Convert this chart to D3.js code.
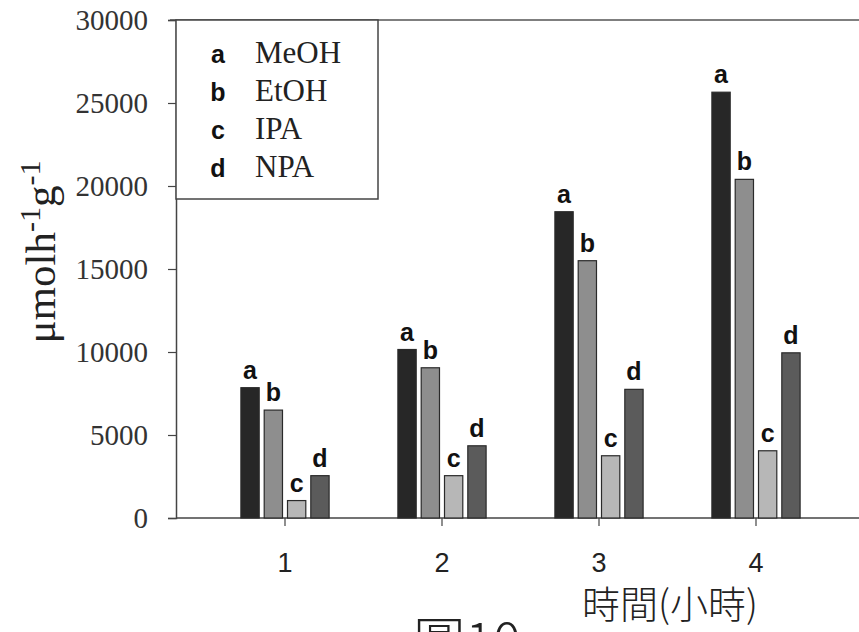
<!DOCTYPE html>
<html lang="zh-Hant">
<head>
<meta charset="UTF-8">
<title>圖10</title>
<script src="https://d3js.org/d3.v7.min.js"></script>
<style>
    body { margin: 0; background: #fff; }
    svg { display: block; }
    .ytick text { font-family: "Liberation Serif", "DejaVu Serif", serif; font-size: 29px; fill: #333; }
    .xtick text { font-family: "Liberation Sans", Arial, sans-serif; font-size: 27px; fill: #222; }
    .bar-label { font-family: "Liberation Sans", Arial, sans-serif; font-weight: bold; font-size: 25px; fill: #111; }
</style>
</head>
<body>
<svg width="859" height="632"></svg>
<script>
    // 數據
    const hours = [1, 2, 3, 4];
    const series = ["a", "b", "c", "d"];
    const seriesNames = ["MeOH", "EtOH", "IPA", "NPA"];
    const meoh = [7850, 10150, 18450, 25650];
    const etoh = [6500, 9050, 15500, 20400];
    const ipa  = [1050, 2550, 3750, 4050];
    const npa  = [2550, 4350, 7750, 9950];
    const yTicks = [0, 5000, 10000, 15000, 20000, 25000, 30000];

    const colors = ["#272727", "#8e8e8e", "#b7b7b7", "#5b5b5b"];
    const values = [meoh, etoh, ipa, npa];

    const svg = d3.select("svg");
    const mLeft = 176, mRight = 859, mTop = 20, mBottom = 518;

    const x = d3.scaleBand().domain(hours).range([206.5, 834.5]).padding(0);
    const xi = d3.scaleBand().domain(series).range([-44.1, 44.1]).paddingInner(0.215).paddingOuter(0);
    const y = d3.scaleLinear().domain([0, 30000]).range([mBottom, mTop]);

    // 頂部框線
    svg.append("line")
        .attr("x1", mLeft - 6).attr("x2", mRight)
        .attr("y1", mTop).attr("y2", mTop)
        .attr("stroke", "#555").attr("stroke-width", 1.5);

    // y 軸
    const yAxis = svg.append("g")
        .attr("class", "ytick")
        .attr("transform", `translate(${mLeft},0)`)
        .call(d3.axisLeft(y).tickValues(yTicks).tickSize(8).tickPadding(20).tickFormat(d3.format("d")));
    yAxis.select(".domain").attr("stroke", "#444").attr("stroke-width", 1.5);
    yAxis.selectAll(".tick line").attr("stroke", "#444").attr("stroke-width", 1.2);

    // x 軸
    const xAxis = svg.append("g")
        .attr("class", "xtick")
        .attr("transform", `translate(0,${mBottom})`)
        .call(d3.axisBottom(x).tickSize(8).tickSizeOuter(0));
    xAxis.select(".domain").attr("d", `M${mLeft},0H${mRight}`).attr("stroke", "#444").attr("stroke-width", 1.5);
    xAxis.selectAll(".tick line").attr("stroke", "#444").attr("stroke-width", 1.2);
    xAxis.selectAll(".tick text").attr("y", 54).attr("dy", 0);

    // 柱狀圖
    const rows = [];
    hours.forEach((h, i) => series.forEach((s, j) => rows.push({ h, s, j, v: values[j][i] })));

    const g = svg.append("g");
    g.selectAll("rect")
        .data(rows)
        .join("rect")
        .attr("x", d => x(d.h) + x.bandwidth() / 2 + xi(d.s))
        .attr("width", xi.bandwidth())
        .attr("y", d => y(d.v))
        .attr("height", d => y(0) - y(d.v))
        .attr("fill", d => colors[d.j])
        .attr("stroke", "#2a2a2a")
        .attr("stroke-width", 1.2);

    g.selectAll(".bar-label")
        .data(rows)
        .join("text")
        .attr("class", "bar-label")
        .attr("x", d => x(d.h) + x.bandwidth() / 2 + xi(d.s) + xi.bandwidth() / 2)
        .attr("y", d => y(d.v) - 9)
        .attr("text-anchor", "middle")
        .text(d => d.s);

    // 圖例
    const lg = svg.append("g");
    lg.append("rect")
        .attr("x", mLeft).attr("y", mTop)
        .attr("width", 202).attr("height", 179)
        .attr("fill", "#fff").attr("stroke", "#444").attr("stroke-width", 1.5);
    series.forEach((s, j) => {
        const yy = 63 + j * 38;
        lg.append("text").attr("class", "bar-label")
            .attr("x", 218).attr("y", yy).attr("text-anchor", "middle").text(s);
        lg.append("text")
            .attr("x", 255).attr("y", yy)
            .style("font-family", "'Liberation Serif', serif").style("font-size", "31px").style("fill", "#222")
            .text(seriesNames[j]);
    });

    // y 軸標題
    const yt = svg.append("text")
        .attr("transform", "translate(55,252) rotate(-90)")
        .attr("text-anchor", "middle")
        .style("font-family", "'Liberation Serif', serif").style("font-size", "43px").style("fill", "#222");
    yt.append("tspan").text("μmolh");
    yt.append("tspan").attr("dy", -15).style("font-size", "30px").text("-1");
    yt.append("tspan").attr("dy", 15).text("g");
    yt.append("tspan").attr("dy", -15).style("font-size", "30px").text("-1");

    // x 軸標題
    svg.append("text")
        .attr("x", 670).attr("y", 618)
        .attr("text-anchor", "middle")
        .style("font-family", "'Noto Sans CJK TC', sans-serif").style("font-weight", 300)
        .style("font-size", "38px").style("fill", "#222")
        .text("時間(小時)");

    // 圖號
    svg.append("text")
        .attr("x", 467).attr("y", 661)
        .attr("text-anchor", "middle")
        .style("font-family", "'Noto Sans CJK TC', sans-serif").style("font-weight", 300)
        .style("font-size", "52px").style("fill", "#222")
        .text("圖10");
</script>
</body>
</html>
